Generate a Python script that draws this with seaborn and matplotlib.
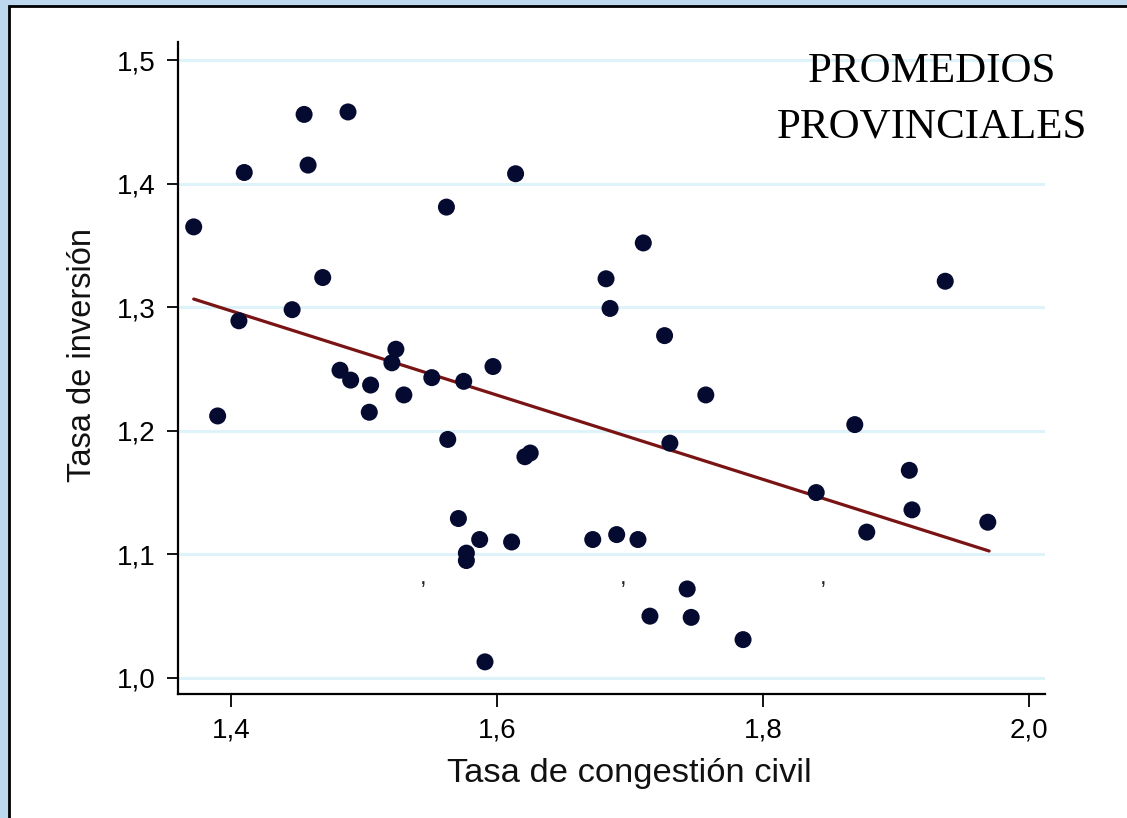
import matplotlib
matplotlib.use("Agg")
import matplotlib.pyplot as plt
import matplotlib.patches as mpatches
import seaborn as sns
import pandas as pd

# ---- data ----
congestion = [1.372, 1.390, 1.406, 1.410, 1.446, 1.455, 1.458, 1.469, 1.482, 1.488,
              1.490, 1.504, 1.505, 1.521, 1.524, 1.530, 1.551, 1.562, 1.563, 1.571,
              1.575, 1.577, 1.577, 1.587, 1.591, 1.597, 1.611, 1.614, 1.621, 1.625,
              1.672, 1.682, 1.685, 1.690, 1.706, 1.710, 1.715, 1.726, 1.730, 1.743,
              1.746, 1.757, 1.785, 1.840, 1.869, 1.878, 1.910, 1.912, 1.937, 1.969]
inversion = [1.365, 1.212, 1.289, 1.409, 1.298, 1.456, 1.415, 1.324, 1.249, 1.458,
             1.241, 1.215, 1.237, 1.255, 1.266, 1.229, 1.243, 1.381, 1.193, 1.129,
             1.240, 1.101, 1.095, 1.112, 1.013, 1.252, 1.110, 1.408, 1.179, 1.182,
             1.112, 1.323, 1.299, 1.116, 1.112, 1.352, 1.050, 1.277, 1.190, 1.072,
             1.049, 1.229, 1.031, 1.150, 1.205, 1.118, 1.168, 1.136, 1.321, 1.126]
fit_x = [1.372, 1.970]
fit_y = [1.3066, 1.1027]
y_ticks = [1.0, 1.1, 1.2, 1.3, 1.4, 1.5]
y_tick_labels = ["1,0", "1,1", "1,2", "1,3", "1,4", "1,5"]
x_ticks = [1.4, 1.6, 1.8, 2.0]
x_tick_labels = ["1,4", "1,6", "1,8", "2,0"]
stray_commas_x = [1.5444, 1.6947, 1.8451]
title_lines = ["PROMEDIOS", "PROVINCIALES"]
x_label = "Tasa de congestión civil"
y_label = "Tasa de inversión"

df = pd.DataFrame({"x": congestion, "y": inversion})
fit_df = pd.DataFrame({"x": fit_x, "y": fit_y})

sns.set_theme(style="white")
plt.rcParams["font.family"] = ["Liberation Sans", "DejaVu Sans"]

fig = plt.figure(figsize=(11.27, 8.18), dpi=100, facecolor="#bdd7ee")
panel = mpatches.Rectangle((9 / 1127, -0.05), 1.2, 1 - 6 / 818 + 0.05,
                           transform=fig.transFigure, facecolor="white",
                           edgecolor="black", linewidth=2, zorder=-5)
fig.add_artist(panel)

ax = fig.add_axes([178 / 1127, 1 - 694 / 818, (1045 - 178) / 1127, (694 - 42) / 818])
ax.set_facecolor("white")

for yv in y_ticks:
    ax.axhline(yv, color="#def3f9", lw=2.2, zorder=0)

sns.lineplot(data=fit_df, x="x", y="y", ax=ax, color="#7a1414", lw=2.3, zorder=2)
sns.scatterplot(data=df, x="x", y="y", ax=ax, color="#050a30", s=150,
                edgecolor="none", zorder=3)

ax.set_xlim(1.3602, 2.012)
ax.set_ylim(0.987, 1.5146)
ax.set_xticks(x_ticks)
ax.set_xticklabels(x_tick_labels)
ax.set_yticks(y_ticks)
ax.set_yticklabels(y_tick_labels)
ax.tick_params(axis="both", which="both", direction="out", length=8, width=1.3,
               colors="black", labelsize=20, pad=8, left=True, bottom=True)
ax.tick_params(axis="x", length=9)

for side in ["top", "right"]:
    ax.spines[side].set_visible(False)
for side in ["left", "bottom"]:
    ax.spines[side].set_visible(True)
    ax.spines[side].set_color("black")
    ax.spines[side].set_linewidth(1.6)
ax.grid(False)

ax.set_xlabel(x_label, fontsize=24.8, color="#111111")
ax.set_ylabel(y_label, fontsize=23.5, color="#111111")
ax.xaxis.set_label_coords(0.52, -0.098)
ax.yaxis.set_label_coords(-0.092, 0.52)

for cx in stray_commas_x:
    ax.text(cx, 1.081, ",", fontsize=17, color="#222222", ha="center", va="center")

fig.text(932 / 1127, 1 - 82 / 818, title_lines[0], family="Liberation Serif",
         fontsize=31, ha="center", va="baseline", color="black")
fig.text(932 / 1127, 1 - 138 / 818, title_lines[1], family="Liberation Serif",
         fontsize=31, ha="center", va="baseline", color="black")

fig.savefig("out.png", dpi=100, facecolor=fig.get_facecolor())
